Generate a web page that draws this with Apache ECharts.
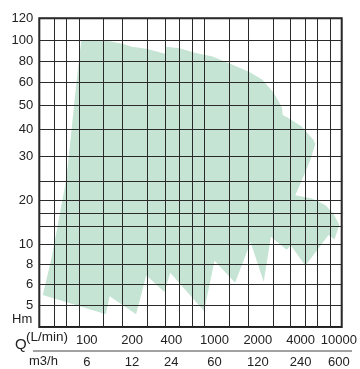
<!DOCTYPE html>
<html><head><meta charset="utf-8">
<script src="https://cdn.jsdelivr.net/npm/echarts@6/dist/echarts.min.js"></script>
<style>html,body{margin:0;padding:0;background:#fff}#c{width:360px;height:369px}</style>
</head><body><div id="c"></div>
<script>
// ---------- data: pump range envelope (flow Q in L/min, head H in m) ----------
const envelopeQ = [92,128,173,199,258,342,360,367,473,673,955,1260,1733,2143,2590,2810,2960,2990,3300,4130,5450,5680,5040,4130,3670,5240,7200,8770,10100,8990,7790,4480,3410,3190,2470,2200,1780,1390,1000,800,393,354,257,215,142,134,51,58,64,69,73,78,83,88.5];
const envelopeH = [99.5,100,96,93,91,87,86.5,93,91.5,87,84,77.5,69,62,55,51.3,48.7,45.6,44.3,41,35.7,34.2,29.2,25.2,21.3,20.5,18.1,14.9,12.3,10.5,11,7.8,9.9,9.4,10.8,6.2,10.2,6.1,8.3,4.7,7.05,5.6,6.8,4.55,5.4,4.55,5.45,8.4,12.1,20.2,25.2,35.7,52,79];

// ---------- tick labels ----------
const headLabels = [120,100,80,60,50,40,30,20,10,8,6,5];
const flowLpm = [100,200,400,1000,2000,4000,10000];
const flowM3h = [6,12,24,60,120,240,600];

// ---------- printed-grid scale calibration (layout, not data) ----------
const hGridVals = [4,5,6,8,10,12,15,20,25,30,40,50,60,80,100,120];
const hGridPos  = [0,0.0713,0.1393,0.2041,0.2679,0.3256,0.3693,0.4091,0.4730,0.5530,0.6398,0.7191,0.7937,0.8617,0.9297,1];
const qAnchorPos = [0.1569,0.3066,0.4365,0.5796,0.7227,0.8641,0.9908];
const qGridPos = [0,0.0493,0.0901,0.1316,0.2128,0.2753,0.3559,0.4168,0.4628,0.5046,0.5441,0.6289,0.6898,0.7730,0.8303,0.8796,0.9178,0.9618,1];

function interpLog(v, vals, pos) {
  const n = vals.length;
  let i = 0;
  while (i < n - 2 && vals[i + 1] < v) i++;
  const a = Math.log10(vals[i]), b = Math.log10(vals[i + 1]);
  return pos[i] + (Math.log10(v) - a) / (b - a) * (pos[i + 1] - pos[i]);
}
const hToPos = h => interpLog(h, hGridVals, hGridPos);
const qToPos = q => interpLog(q, flowLpm, qAnchorPos);

const hLabelPos = headLabels.map(hToPos);
const qLabelPos = flowLpm.map(qToPos);
const near = (arr, v) => arr.findIndex(p => Math.abs(p - v) < 1e-6);

const points = envelopeQ.map((q, i) => [qToPos(q), hToPos(envelopeH[i])]);

const TXT = '#222';
const FONT = '"Liberation Sans", Arial, sans-serif';

const chart = echarts.init(document.getElementById('c'), null, {renderer: 'canvas'});
chart.setOption({
  animation: false,
  backgroundColor: '#fff',
  textStyle: {fontFamily: FONT},
  grid: {left: 39.3, top: 18.3, right: 16.7, bottom: 42, show: true, borderColor: '#1e1e1e', borderWidth: 2, backgroundColor: 'transparent'},
  xAxis: {
    type: 'value', min: 0, max: 1, z: 5,
    axisLine: {show: false},
    axisTick: {show: false, customValues: qGridPos},
    splitLine: {show: true, lineStyle: {color: '#2a2a2a', width: 1}},
    axisLabel: {
      customValues: qLabelPos, margin: 2, color: TXT, fontFamily: FONT,
      formatter: v => { const i = near(qLabelPos, v); return i < 0 ? '' : '{a|' + flowLpm[i] + '}\n{b|' + flowM3h[i] + '}'; },
      rich: {a: {fontSize: 13, lineHeight: 22, color: TXT, fontFamily: FONT}, b: {fontSize: 13, lineHeight: 22, color: TXT, fontFamily: FONT}}
    }
  },
  yAxis: {
    type: 'value', min: 0, max: 1, z: 5,
    axisLine: {show: false},
    axisTick: {show: false, customValues: hGridPos},
    splitLine: {show: true, lineStyle: {color: '#2a2a2a', width: 1}},
    axisLabel: {
      customValues: hLabelPos, margin: 6, color: TXT, fontSize: 13, fontFamily: FONT,
      formatter: v => { const i = near(hLabelPos, v); return i < 0 ? '' : String(headLabels[i]); }
    }
  },
  graphic: [
    {type: 'text', left: 12, top: 313, style: {text: 'Hm', fontSize: 13, fill: TXT, fontFamily: FONT}},
    {type: 'text', left: 15, top: 337, style: {text: 'Q', fontSize: 15, fill: TXT, fontFamily: FONT}},
    {type: 'text', left: 26, top: 330, style: {text: '(L/min)', fontSize: 13.5, fill: TXT, fontFamily: FONT}},
    {type: 'text', left: 29, top: 355, style: {text: 'm3/h', fontSize: 13, fill: TXT, fontFamily: FONT}},
    {type: 'line', shape: {x1: 33, y1: 351, x2: 352, y2: 351}, style: {stroke: '#444', lineWidth: 1}}
  ],
  series: [{
    type: 'custom', coordinateSystem: 'cartesian2d', silent: true, z: 2,
    data: points,
    renderItem: (params, api) => {
      if (params.dataIndex !== 0) return null;
      return {type: 'polygon', shape: {points: points.map(p => api.coord(p))}, style: {fill: '#c5e4d3', stroke: null}};
    }
  }]
});
</script></body></html>
